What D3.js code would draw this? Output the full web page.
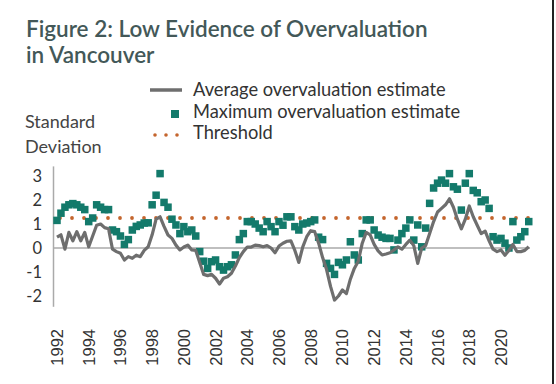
<!DOCTYPE html>
<html>
<head>
<meta charset="utf-8">
<script src="https://cdn.jsdelivr.net/npm/d3@7"></script>
<style>
  body { margin: 0; background: #fff; }
  text { font-family: Lato, "Open Sans", sans-serif; }
</style>
</head>
<body>
<div class="canva"></div>
<script>
// quarterly, 1992Q1 onwards
const startYear = 1992;
const maxEstimate = [
  1.15, 1.45, 1.7, 1.8, 1.85, 1.8, 1.7, 1.6, 1.1, 1.25, 1.8, 1.7,
  1.6, 1.6, 0.75, 0.68, 0.5, 0.15, 0.35, 0.75, 0.9, 0.96, 1.04, 1.05,
  1.8, 2.2, 3.1, 1.9, 1.7, 1.2, 0.96, 0.6, 0.89, 0.68, 0.75, 0.5,
  -0.15, -0.55, -0.85, -0.57, -0.5, -0.78, -0.92, -0.78, -0.7, -0.29, 0.35, 0.6,
  1.1, 1.1, 1.0, 0.83, 0.68, 1.1, 0.89, 0.68, 1.1, 0.95, 1.3, 1.3,
  0.89, 0.75, 1.0, 1.04, 1.1, 1.17, 0.45, 0.35, -0.64, -0.85, -1.1, -0.6,
  -0.7, -0.5, 0.26, -0.29, -0.5, 0.6, 1.17, 1.17, 0.75, 0.54, 0.45, 0.4,
  0.4, -0.08, 0.33, 0.6, 0.83, 1.17, 0.33, 0.96, 0.05, 0.83, 1.86, 2.5,
  2.7, 2.83, 2.7, 3.1, 2.55, 2.45, 1.58, 2.7, 3.1, 2.4, 2.3, 1.93,
  2.0, 1.65, 0.47, 0.33, 0.4, 0.2, 0.0, 1.1, 0.33, 0.47, 0.68, 1.1
];
const avgEstimate = [
  0.45, 0.55, -0.05, 0.65, 0.3, 0.68, 0.3, 0.65, 0.05, 0.5, 0.95, 1.0,
  0.85, 0.8, -0.05, -0.15, -0.22, -0.5, -0.36, -0.43, -0.3, -0.36, -0.1, 0.05,
  0.55, 1.2, 1.3, 0.9, 0.54, 0.4, 0.12, -0.08, 0.04, 0.12, -0.08, -0.1,
  -0.6, -1.1, -1.15, -1.1, -1.26, -1.5, -1.26, -1.2, -1.05, -0.75, -0.4, -0.15,
  0.04, 0.04, 0.12, 0.1, 0.05, 0.1, 0.0, -0.2, 0.08, 0.2, 0.28, 0.3,
  -0.1, -0.6, 0.05, 0.47, 0.72, 0.68, 0.2, -0.4, -0.9, -1.6, -2.17, -2.0,
  -1.75, -1.9, -1.3, -0.85, -0.55, 0.2, 0.65, 0.55, 0.15, -0.12, -0.29, -0.25,
  -0.2, -0.08, 0.05, -0.05, 0.15, 0.33, 0.1, -0.64, 0.0, 0.1, 0.6, 1.1,
  1.5, 1.65, 1.8, 2.05, 1.7, 1.2, 0.8, 1.2, 1.75, 1.3, 0.95, 0.6,
  0.7, 0.3, -0.05, -0.15, -0.08, -0.3, -0.1, 0.15, -0.15, -0.15, -0.1, 0.05
];
const threshold = 1.25;
const yTicks = [3, 2, 1, 0, -1, -2];
const xTicks = d3.range(1992, 2021, 2);
const legendLabels = ["Average overvaluation estimate", "Maximum overvaluation estimate", "Threshold"];

const width = 556, height = 384;
const green = "#137a6b", grey = "#6e6e6e", orange = "#c4652d";

const svg = d3.select(".canva").append("svg")
    .attr("width", width)
    .attr("height", height);

const x = d3.scaleLinear().domain([1992, 2020]).range([57, 501]);
const y = d3.scaleLinear().domain([-2, 3]).range([296, 176]);
const t = i => startYear + i / 4;

// title
svg.append("text")
    .attr("x", 26).attr("y", 37)
    .attr("fill", "#435858")
    .attr("font-size", 22.5).attr("font-weight", 600)
    .text("Figure 2: Low Evidence of Overvaluation");
svg.append("text")
    .attr("x", 26).attr("y", 63)
    .attr("fill", "#435858")
    .attr("font-size", 22.5).attr("font-weight", 600)
    .text("in Vancouver");

// legend
const lg = svg.append("g");
lg.append("line").attr("x1", 150).attr("x2", 182).attr("y1", 90).attr("y2", 90)
    .attr("stroke", grey).attr("stroke-width", 3.5);
lg.append("rect").attr("x", 171).attr("y", 110).attr("width", 8).attr("height", 8)
    .attr("fill", green);
lg.selectAll("circle").data([155, 166, 177]).join("circle")
    .attr("cx", d => d).attr("cy", 135).attr("r", 1.8).attr("fill", orange);
lg.selectAll("text").data(legendLabels).join("text")
    .attr("x", 193).attr("y", (d, i) => 96 + i * 21.5)
    .attr("font-size", 18.3).attr("fill", "#333")
    .text(d => d);

// y title
svg.append("text").attr("x", 25).attr("y", 128)
    .attr("font-size", 18).attr("fill", "#444").text("Standard");
svg.append("text").attr("x", 25).attr("y", 153)
    .attr("font-size", 18).attr("fill", "#444").text("Deviation");

// y axis
svg.append("line")
    .attr("x1", 53.5).attr("x2", 53.5).attr("y1", y(3.4)).attr("y2", y(-2.45))
    .attr("stroke", "#aaa").attr("stroke-width", 1.5);
svg.selectAll(".ytick").data(yTicks).join("text")
    .attr("class", "ytick")
    .attr("x", 42).attr("y", d => y(d) + 5.5)
    .attr("text-anchor", "end")
    .attr("font-size", 16.5).attr("fill", "#333")
    .text(d => d);

// zero line
svg.append("line")
    .attr("x1", 53.5).attr("x2", 530).attr("y1", y(0)).attr("y2", y(0))
    .attr("stroke", "#aaa").attr("stroke-width", 1.5);

// x tick labels
svg.selectAll(".xtick").data(xTicks).join("text")
    .attr("class", "xtick")
    .attr("transform", d => `translate(${x(d) + 6},329) rotate(-90)`)
    .attr("text-anchor", "end")
    .style("font-family", "'Liberation Sans', Arial, sans-serif")
    .attr("font-size", 16.5).attr("fill", "#333")
    .text(d => d);

// threshold
svg.selectAll(".thr").data(d3.range(0, 40)).join("circle")
    .attr("class", "thr")
    .attr("cx", d => 60 + d * 12).attr("cy", y(threshold))
    .attr("r", 1.9).attr("fill", orange);

// max estimate squares
svg.selectAll(".sq").data(maxEstimate).join("rect")
    .attr("class", "sq")
    .attr("x", (d, i) => x(t(i)) - 3.75).attr("y", d => y(d) - 3.75)
    .attr("width", 7.5).attr("height", 7.5)
    .attr("fill", green);

// average line
const line = d3.line().x((d, i) => x(t(i))).y(d => y(d));
svg.append("path")
    .attr("d", line(avgEstimate))
    .attr("fill", "none")
    .attr("stroke", grey).attr("stroke-width", 3.2)
    .attr("stroke-linejoin", "round");

// right edge border
svg.append("line").attr("x1", 553).attr("x2", 553).attr("y1", 0).attr("y2", height)
    .attr("stroke", "#222").attr("stroke-width", 2);
</script>
</body>
</html>
